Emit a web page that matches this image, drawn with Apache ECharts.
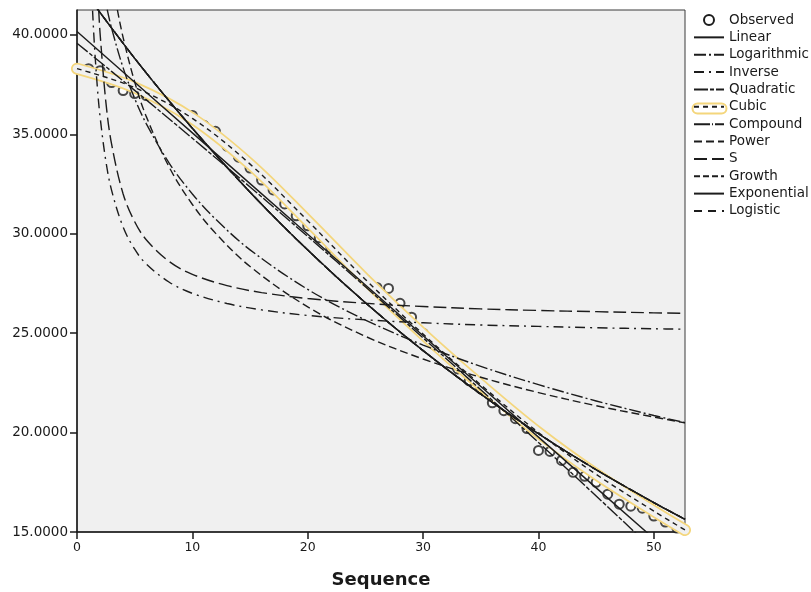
<!DOCTYPE html>
<html><head><meta charset="utf-8">
<script src="https://cdn.jsdelivr.net/npm/echarts@6/dist/echarts.min.js"></script>
<style>html,body{margin:0;padding:0;background:#fff}#c{width:811px;height:592px}</style>
</head><body><div id="c"></div>
<script>
// ---- data ----
const xTickValues = [0, 10, 20, 30, 40, 50];
const yTickValues = [15, 20, 25, 30, 35, 40];

const observedT = [1,2,3,4,5,6,7,8,9,10,11,12,13,14,15,16,17,18,19,20,21,22,23,24,25,26,27,28,29,30,31,32,33,34,35,36,37,38,39,40,41,42,43,44,45,46,47,48,49,50,51,52];
const observedV = [38.3,38.2,37.6,37.2,37.05,36.95,36.8,36.5,36.15,35.95,35.45,35.15,34.4,33.85,33.3,32.7,32.2,31.5,30.9,30.4,29.8,29.3,28.8,28.2,27.7,27.3,27.25,26.5,25.8,25.0,24.4,23.9,23.2,22.6,22.2,21.5,21.1,20.7,20.2,19.1,19.05,18.6,18.0,17.8,17.5,16.9,16.4,16.3,16.2,15.8,15.5,15.2];

const linearT = [0, 10, 20, 30, 40, 50, 52.7];
const linearV = [40.17, 35.07, 29.97, 24.87, 19.77, 14.67, 13.29];

const logT = [2.62, 3, 4, 5, 6, 8, 10, 12, 15, 20, 25, 30, 35, 40, 45, 50, 52.7];
const logV = [41.27, 40.33, 38.34, 36.8, 35.54, 33.54, 32.0, 30.74, 29.19, 27.2, 25.66, 24.4, 23.33, 22.41, 21.59, 20.86, 20.5];

const inverseT = [1.35, 1.5, 1.75, 2, 2.5, 3, 4, 5, 6, 8, 10, 13, 16, 20, 25, 30, 35, 40, 45, 50, 52.7];
const inverseV = [41.22, 39.58, 37.47, 35.88, 33.66, 32.18, 30.33, 29.22, 28.48, 27.56, 27.0, 26.49, 26.17, 25.89, 25.67, 25.52, 25.41, 25.34, 25.27, 25.22, 25.2];

const quadraticT = [0, 5, 10, 15, 20, 25, 30, 35, 40, 45, 50, 52.7];
const quadraticV = [39.58, 37.21, 34.8, 32.35, 29.86, 27.33, 24.76, 22.15, 19.5, 16.81, 14.08, 12.57];

const cubicT = [0, 5, 10, 15, 20, 25, 30, 35, 40, 45, 50, 52.7];
const cubicV = [38.3, 37.35, 35.8, 33.5, 30.65, 27.7, 24.95, 22.4, 20.0, 17.9, 16.05, 15.1];

// Compound, Growth, Exponential and Logistic draw the same curve
const expFamilyT = [0, 5, 10, 15, 20, 25, 30, 35, 40, 45, 50, 52.7];
const expFamilyV = [42.7, 38.82, 35.3, 32.09, 29.18, 26.53, 24.12, 21.93, 19.94, 18.13, 16.48, 15.64];

const powerT = [3.5, 4, 5, 6, 8, 10, 12, 15, 20, 25, 30, 35, 40, 45, 50, 52.7];
const powerV = [41.26, 39.86, 37.63, 35.9, 33.34, 31.47, 30.03, 28.35, 26.32, 24.84, 23.7, 22.78, 22.01, 21.35, 20.78, 20.49];

const sT = [1.88, 2, 2.5, 3, 4, 5, 6, 8, 10, 13, 16, 20, 25, 30, 35, 40, 45, 50, 52.7];
const sV = [41.26, 40.08, 36.63, 34.5, 32.0, 30.6, 29.7, 28.6, 27.96, 27.39, 27.04, 26.74, 26.5, 26.34, 26.22, 26.14, 26.08, 26.02, 26.0];

const legendNames = ['Observed','Linear','Logarithmic','Inverse','Quadratic','Cubic','Compound','Power','S','Growth','Exponential','Logistic'];

// ---- build ----
const pairs = (t, v) => t.map((x, i) => [x, v[i]]);
const INK = '#1c1c1c';
const BG = '#f0f0f0';
const YEL = '#f4d67c';
const SMOOTH = 0.35;
const FONT = 'DejaVu Sans, Arial, sans-serif';

function curve(name, t, v, type) {
  return {
    name, type: 'line', data: pairs(t, v), symbol: 'none', smooth: SMOOTH,
    lineStyle: { color: INK, width: 1.4, type: type },
    itemStyle: { color: INK },
    emphasis: { disabled: true }, animation: false
  };
}

const series = [
  { name: 'halo1', type: 'line', data: pairs(cubicT, cubicV), symbol: 'none', smooth: SMOOTH, clip: false,
    lineStyle: { color: YEL, width: 12, cap: 'round' }, silent: true, animation: false },
  { name: 'halo2', type: 'line', data: pairs(cubicT, cubicV), symbol: 'none', smooth: SMOOTH, clip: false,
    lineStyle: { color: BG, width: 8.5, cap: 'round' }, silent: true, animation: false },
  curve('Linear', linearT, linearV, 'solid'),
  curve('Logarithmic', logT, logV, [12, 3, 2, 3]),
  curve('Inverse', inverseT, inverseV, [10, 5, 2, 5]),
  curve('Quadratic', quadraticT, quadraticV, [14, 2, 4, 2]),
  curve('Cubic', cubicT, cubicV, [5, 4]),
  curve('Compound', expFamilyT, expFamilyV, [16, 2, 1, 2]),
  curve('Power', powerT, powerV, [8, 4]),
  curve('S', sT, sV, [13, 5]),
  curve('Growth', expFamilyT, expFamilyV, [6, 3]),
  curve('Exponential', expFamilyT, expFamilyV, 'solid'),
  curve('Logistic', expFamilyT, expFamilyV, [8, 6]),
  { name: 'Observed', type: 'scatter', data: pairs(observedT, observedV), symbol: 'emptyCircle', symbolSize: 9,
    itemStyle: { color: INK, borderColor: INK, borderWidth: 1 }, emphasis: { disabled: true }, animation: false }
];

const legendData = legendNames.map(n => n === 'Observed' ? { name: n, itemStyle: { opacity: 1, borderWidth: 1 } } : { name: n });

const chart = echarts.init(document.getElementById('c'), null, { renderer: 'canvas' });
chart.setOption({
  backgroundColor: '#ffffff',
  animation: false,
  grid: { left: 77, right: 126, top: 10, bottom: 60, outerBoundsMode: 'none', containLabel: false,
    show: true, backgroundColor: BG, borderColor: '#3a3a3a', borderWidth: 1 },
  xAxis: {
    type: 'value', min: 0, max: 52.7,
    name: 'Sequence', nameLocation: 'middle', nameGap: 39,
    nameTextStyle: { fontFamily: FONT, fontWeight: 'bold', fontSize: 18, color: '#1a1a1a' },
    axisLine: { show: true, lineStyle: { color: '#1a1a1a', width: 1.5 } },
    axisTick: { show: true, length: 7, customValues: xTickValues, lineStyle: { color: '#1a1a1a', width: 1.5 } },
    axisLabel: { customValues: xTickValues, margin: 9, fontFamily: FONT, fontSize: 12.5, color: '#1a1a1a' },
    splitLine: { show: false }
  },
  yAxis: {
    type: 'value', min: 15, max: 41.25,
    axisLine: { show: true, lineStyle: { color: '#1a1a1a', width: 1.5 } },
    axisTick: { show: true, length: 7, customValues: yTickValues, lineStyle: { color: '#1a1a1a', width: 1.5 } },
    axisLabel: { customValues: yTickValues, margin: 9, fontFamily: FONT, fontSize: 13.5, color: '#1a1a1a',
      formatter: v => v.toFixed(4) },
    splitLine: { show: false }
  },
  legend: {
    data: legendData, orient: 'vertical', left: 688, top: 8,
    itemWidth: 30, itemHeight: 10, itemGap: 3.36, selectedMode: false,
    itemStyle: { opacity: 0 },
    textStyle: { fontFamily: FONT, fontSize: 13.5, lineHeight: 14, color: '#1a1a1a' }
  },
  graphic: [{
    type: 'rect', left: 690, top: 101, silent: true,
    shape: { width: 34, height: 10, r: 5 },
    style: { fill: 'none', stroke: YEL, lineWidth: 2 }
  }],
  series
});
</script></body></html>
